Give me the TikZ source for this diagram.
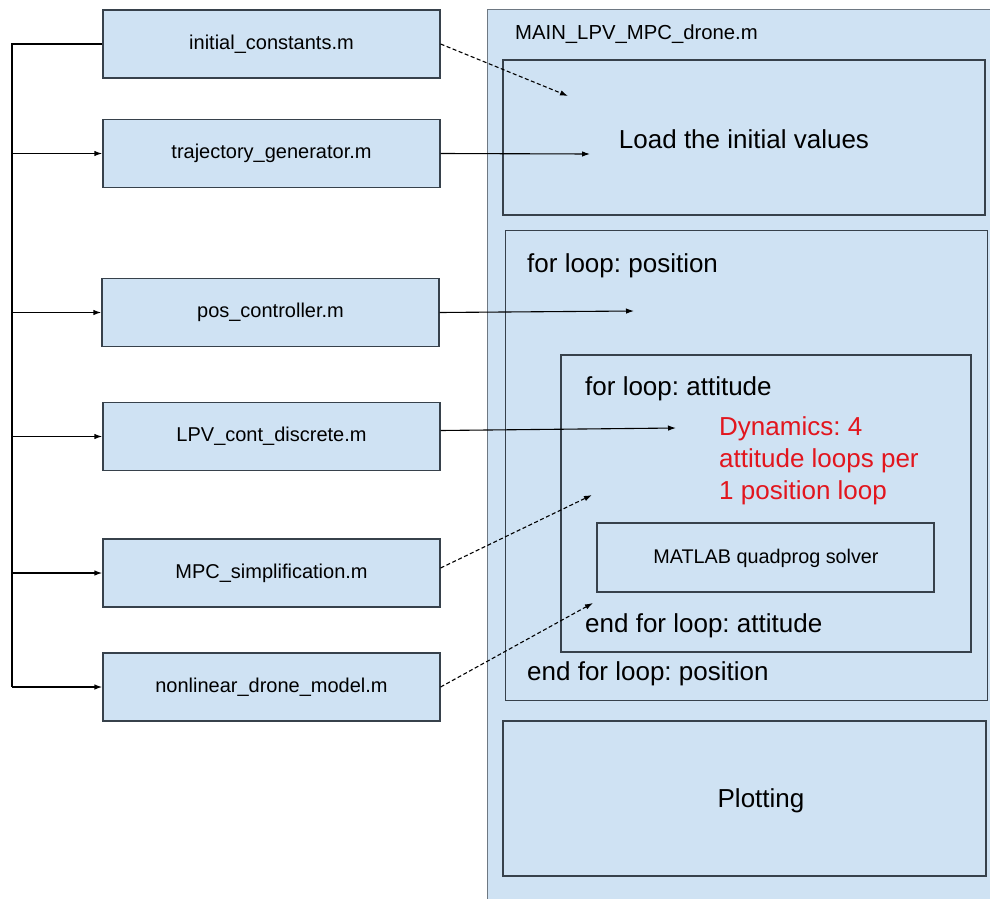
\documentclass[tikz,border=0pt]{standalone}
\usepackage{fontspec}
\setmainfont{Liberation Sans}
\usetikzlibrary{arrows.meta}
\frenchspacing
\definecolor{boxfill}{RGB}{207,226,243}
\definecolor{boxline}{RGB}{55,65,75}
\definecolor{softline}{RGB}{110,120,130}
\definecolor{redtxt}{RGB}{226,22,30}
\tikzset{
  x=1pt, y=-1pt,
  filebox/.style={draw=boxline, line width=1.2pt, fill=boxfill, minimum width=337pt, minimum height=68pt, inner sep=0pt, font=\fontsize{20}{24}\selectfont},
  panel/.style={draw=boxline, line width=1.2pt, fill=boxfill},
  bigtxt/.style={font=\fontsize{26}{32}\selectfont, inner sep=0pt},
  conn/.style={line width=1.1pt, -{Latex[length=8pt,width=5.5pt]}},
  dconn/.style={conn, dash pattern=on 4pt off 2.5pt},
  bus/.style={line width=1.4pt}
}
\begin{document}
\begin{tikzpicture}
\path[use as bounding box, clip] (0,0) rectangle (990,899);
\fill[white] (0,0) rectangle (990,899);
% main container
\draw[draw=softline, line width=1pt, fill=boxfill] (487,10) rectangle (1000,910);
\node[anchor=west, font=\fontsize{20.3}{24}\selectfont, inner sep=0pt] (title) at (515,34) {MAIN\_LPV\_MPC\_drone.m};
% load box
\draw[panel] (503,60) rectangle (985,215);
\node[bigtxt] (load) at (744,139) {Load the initial values};
% position loop
\draw[draw=boxline, line width=0.9pt, fill=boxfill] (505,230) rectangle (987,700);
\node[bigtxt, anchor=west] (posfor) at (527,266) {for loop: position};
\node[bigtxt, anchor=west] (posend) at (527,674) {end for loop: position};
% attitude loop
\draw[panel] (561,355) rectangle (971,652);
\node[bigtxt, anchor=west] (attfor) at (585,389) {for loop: attitude};
\node[bigtxt, anchor=west] (attend) at (585,626) {end for loop: attitude};
\node[bigtxt, anchor=north west, align=left, text=redtxt] (dyn) at (719,416) {Dynamics: 4\\attitude loops per\\1 position loop};
% solver
\draw[panel] (597,523) rectangle (934,592);
\node[font=\fontsize{19.8}{24}\selectfont, inner sep=0pt] (solver) at (766,558) {MATLAB quadprog solver};
% plotting
\draw[panel] (503,721) rectangle (986,876);
\node[bigtxt] (plot) at (761,801) {Plotting};
% file boxes
\node[filebox] (ic) at (271.5,44) {initial\_constants.m};
\node[filebox] (tg) at (271.5,153.5) {trajectory\_generator.m};
\node[filebox] (pc) at (270.5,312.5) {pos\_controller.m};
\node[filebox] (lpv) at (271.5,436.5) {LPV\_cont\_discrete.m};
\node[filebox] (mpc) at (271.5,573) {MPC\_simplification.m};
\node[filebox] (nl) at (271.5,687) {nonlinear\_drone\_model.m};
% bus
\coordinate (bustop) at (12,44);
\coordinate (busbot) at (12,687);
\draw[bus] (ic.west) -- (bustop) -- (busbot);
\draw[bus, -{Latex[length=8pt,width=5.5pt]}] (busbot) -- (nl.west);
\foreach \n in {tg,pc,lpv,mpc}
  \draw[bus, -{Latex[length=8pt,width=5.5pt]}] (bustop |- \n.west) -- (\n.west);
% connectors to main
\coordinate (tIC) at (568,96);
\coordinate (tTG) at (590,154);
\coordinate (tPC) at (634,311);
\coordinate (tLPV) at (676,428);
\coordinate (tMPC) at (592,495);
\coordinate (tNL) at (593,603);
\draw[dconn] (ic.east) -- (tIC);
\draw[conn] (tg.east) -- (tTG);
\draw[conn] (pc.east) -- (tPC);
\draw[conn] ([yshift=6pt]lpv.east) -- (tLPV);
\draw[dconn] ([yshift=5pt]mpc.east) -- (tMPC);
\draw[dconn] (nl.east) -- (tNL);
\end{tikzpicture}
\end{document}
